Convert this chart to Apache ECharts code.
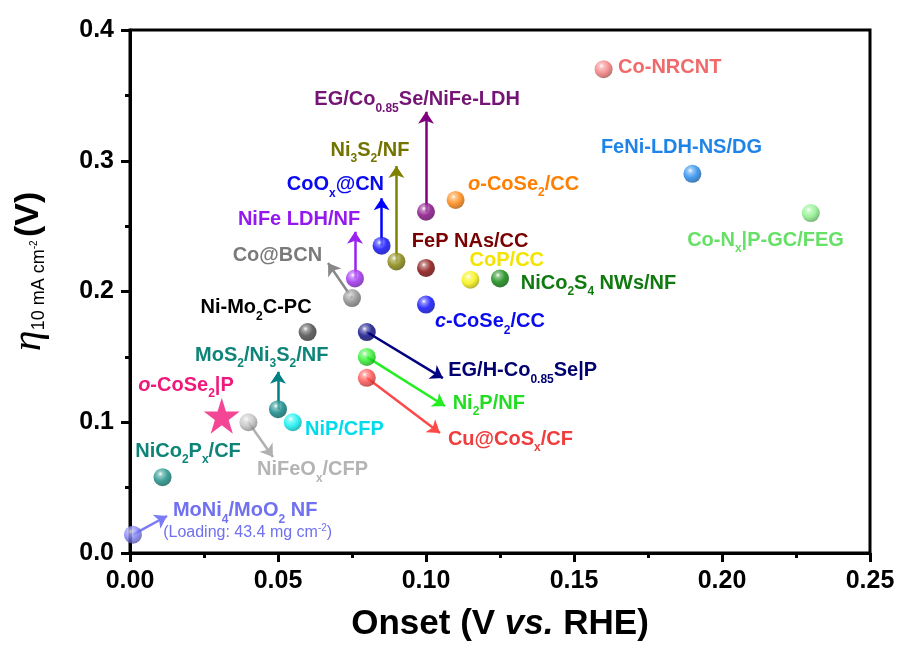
<!DOCTYPE html>
<html><head><meta charset="utf-8">
<script src="https://cdn.jsdelivr.net/npm/echarts@6/dist/echarts.min.js"></script>
<style>html,body{margin:0;padding:0;background:#fff}#c{width:900px;height:646px}</style>
</head><body><div id="c"></div>
<script>
// ---------------- data ----------------
const xTickLabels = ['0.00', '0.05', '0.10', '0.15', '0.20', '0.25'];
const yTickLabels = ['0.0', '0.1', '0.2', '0.3', '0.4'];

const catalysts = [
  'Co-NRCNT', 'FeNi-LDH-NS/DG', 'Co-NxP-GC/FEG', 'EG/Co0.85Se/NiFe-LDH', 'o-CoSe2/CC',
  'Ni3S2/NF', 'CoOx@CN', 'NiFe LDH/NF', 'Co@BCN', 'FeP NAs/CC', 'CoP/CC', 'NiCo2S4 NWs/NF',
  'c-CoSe2/CC', 'Ni-Mo2C-PC', 'EG/H-Co0.85Se|P', 'Ni2P/NF', 'Cu@CoSx/CF', 'MoS2/Ni3S2/NF',
  'NiP/CFP', 'NiFeOx/CFP', 'o-CoSe2|P', 'NiCo2Px/CF', 'MoNi4/MoO2 NF'
];
const onset = [0.160, 0.190, 0.230, 0.100, 0.110, 0.090, 0.085, 0.076, 0.075, 0.100, 0.115, 0.125,
  0.100, 0.060, 0.080, 0.080, 0.080, 0.050, 0.055, 0.040, 0.031, 0.011, 0.001];
const eta10 = [0.370, 0.290, 0.260, 0.261, 0.270, 0.223, 0.235, 0.210, 0.195, 0.218, 0.209, 0.210,
  0.190, 0.169, 0.169, 0.150, 0.134, 0.110, 0.100, 0.100, 0.105, 0.058, 0.014];

// label texts (rich markup for sub/superscripts, italics)
const labelTexts = [
  'Co-NRCNT', 'FeNi-LDH-NS/DG', 'Co-N{sub|x}|P-GC/FEG', 'EG/Co{sub|0.85}Se/NiFe-LDH', '{it|o}-CoSe{sub|2}/CC',
  'Ni{sub|3}S{sub|2}/NF', 'CoO{sub|x}@CN', 'NiFe LDH/NF', 'Co@BCN', 'FeP NAs/CC', 'CoP/CC', 'NiCo{sub|2}S{sub|4} NWs/NF',
  '{it|c}-CoSe{sub|2}/CC', 'Ni-Mo{sub|2}C-PC', 'EG/H-Co{sub|0.85}Se|P', 'Ni{sub|2}P/NF', 'Cu@CoS{sub|x}/CF',
  'MoS{sub|2}/Ni{sub|3}S{sub|2}/NF', 'NiP/CFP', 'NiFeO{sub|x}/CFP', '{it|o}-CoSe{sub|2}|P', 'NiCo{sub|2}P{sub|x}/CF',
  'MoNi{sub|4}/MoO{sub|2} NF'
];
const noteText = '(Loading: 43.4 mg cm{sup|-2})';

// arrow tips (data space); null = no arrow
const arrowTipX = [null, null, null, 0.100, null, 0.090, 0.085, 0.076, 0.0669, null, null, null,
  null, null, 0.1057, 0.1064, 0.1047, 0.050, null, 0.0483, null, null, 0.0125];
const arrowTipY = [null, null, null, 0.3375, null, 0.296, 0.2713, 0.2457, 0.2218, null, null, null,
  null, null, 0.1338, 0.1124, 0.0918, 0.1387, null, 0.0734, null, null, 0.0283];

// ---------------- annotation layout (label anchors, in data space) ----------------
const labelAnchorX = [0.1649, 0.1863, 0.2147, 0.0970, 0.1142, 0.0811, 0.0694, 0.0571, 0.0498, 0.0952, 0.1273, 0.1320,
  0.1030, 0.0426, 0.1075, 0.1090, 0.1074, 0.0445, 0.0591, 0.0429, 0.0189, 0.0196, 0.0145];
const labelAnchorY = [0.3710, 0.3098, 0.2394, 0.3465, 0.2822, 0.3082, 0.2815, 0.2554, 0.2279, 0.2386, 0.2237, 0.2065,
  0.1769, 0.1874, 0.1394, 0.1147, 0.0872, 0.1514, 0.0941, 0.0635, 0.1285, 0.0775, 0.0323];
const labelAlign = ['left', 'center', 'center', 'center', 'left', 'center', 'center', 'center', 'center', 'left', 'center', 'left',
  'left', 'center', 'left', 'left', 'left', 'center', 'left', 'left', 'center', 'center', 'left'];
const noteAnchor = [0.0112, 0.0153];

// ---------------- styles ----------------
const pointColors = ['#f47878', '#1a84ec', '#84f084', '#800080', '#ff8000', '#808000', '#0000ff', '#9a22f0', '#888888',
  '#800000', '#f5f000', '#008000', '#0000ff', '#404040', '#000080', '#22ee22', '#ff4848', '#008080', '#00f0f0',
  '#c0c0c0', '#f0187a', '#108a80', '#7b7bf5'];
const textColors = ['#f06a6a', '#1f84e8', '#66e066', '#741474', '#ff7f00', '#737300', '#0a0af0', '#9418f0', '#7a7a7a',
  '#780000', '#f2e400', '#107a10', '#0a0af0', '#000000', '#00006e', '#22dd22', '#f03c3c', '#0e8478', '#00dcec',
  '#b4b4b4', '#f0187a', '#0e8478', '#7070f0'];

function shade(hex, f) {
  const n = parseInt(hex.slice(1), 16);
  let r = (n >> 16) & 255, g = (n >> 8) & 255, b = n & 255;
  if (f >= 0) { r += (255 - r) * f; g += (255 - g) * f; b += (255 - b) * f; }
  else { r *= 1 + f; g *= 1 + f; b *= 1 + f; }
  return 'rgb(' + Math.round(r) + ',' + Math.round(g) + ',' + Math.round(b) + ')';
}
function sphere(c) {
  return {
    type: 'radial', x: 0.38, y: 0.32, r: 0.72,
    colorStops: [
      { offset: 0, color: '#ffffff' },
      { offset: 0.18, color: shade(c, 0.45) },
      { offset: 0.55, color: c },
      { offset: 1, color: shade(c, -0.35) }
    ]
  };
}
const STAR = 'path://M50,0 L61.2,34.5 L97.6,34.5 L68.2,55.9 L79.4,90.5 L50,69.1 L20.6,90.5 L31.8,55.9 L2.4,34.5 L38.8,34.5 Z';
const starIndex = catalysts.indexOf('o-CoSe2|P');

// ---------------- series ----------------
const pointData = catalysts.map((n, i) => {
  const isStar = i === starIndex;
  return {
    name: n,
    value: [onset[i], eta10[i]],
    symbol: isStar ? STAR : 'circle',
    symbolSize: isStar ? 36 : 18,
    itemStyle: { color: isStar ? pointColors[i] : sphere(pointColors[i]) }
  };
});

const arrowData = [];
catalysts.forEach((n, i) => {
  if (arrowTipX[i] !== null) {
    arrowData.push({
      coords: [[onset[i], eta10[i]], [arrowTipX[i], arrowTipY[i]]],
      lineStyle: { color: pointColors[i] === '#c0c0c0' ? '#b0b0b0' : pointColors[i] }
    });
  }
});

function richFor(col) {
  return {
    sub: { fontSize: 12, lineHeight: 12, fontWeight: 'bold', padding: [17, 0, 0, 0], color: col, textBorderWidth: 0 },
    it: { fontStyle: 'italic', fontWeight: 'bold', fontSize: 20, color: col, textBorderWidth: 0 },
    sup: { fontSize: 10, lineHeight: 10, padding: [0, 0, 10, 0], color: col, textBorderWidth: 0 }
  };
}

const labelData = catalysts.map((n, i) => ({
  value: [labelAnchorX[i], labelAnchorY[i]],
  label: {
    formatter: labelTexts[i],
    color: textColors[i],
    align: labelAlign[i],
    rich: richFor(textColors[i])
  }
}));
labelData.push({
  value: noteAnchor,
  label: {
    formatter: noteText, color: textColors[22], align: 'left', fontSize: 16, fontWeight: 'normal',
    rich: richFor(textColors[22])
  }
});

const chart = echarts.init(document.getElementById('c'), null, { renderer: 'canvas' });
chart.setOption({
  animation: false,
  backgroundColor: '#ffffff',
  textStyle: { fontFamily: 'Liberation Sans, Arial, sans-serif' },
  grid: {
    left: 130, right: 30, top: 30, bottom: 93, show: true, borderColor: '#000', borderWidth: 3,
    containLabel: false, outerBoundsMode: 'none'
  },
  xAxis: {
    type: 'value', min: 0, max: 0.25, interval: 0.05,
    axisLine: { lineStyle: { color: '#000', width: 3 } },
    axisTick: { show: true, length: 9, lineStyle: { color: '#000', width: 3 } },
    minorTick: { show: true, splitNumber: 2, length: 5, lineStyle: { color: '#000', width: 3 } },
    splitLine: { show: false },
    axisLabel: {
      color: '#000', fontSize: 25, fontWeight: 'bold', margin: 16,
      formatter: v => xTickLabels[Math.round(v / 0.05)]
    },
    name: '{b|Onset (V }{i|vs.}{b| RHE)}',
    nameLocation: 'middle', nameGap: 54,
    nameTextStyle: {
      rich: {
        b: { fontSize: 35, fontWeight: 'bold', color: '#000' },
        i: { fontSize: 35, fontWeight: 'bold', fontStyle: 'italic', color: '#000' }
      }
    }
  },
  yAxis: {
    type: 'value', min: 0, max: 0.4, interval: 0.1,
    axisLine: { lineStyle: { color: '#000', width: 3 } },
    axisTick: { show: true, length: 9, lineStyle: { color: '#000', width: 3 } },
    minorTick: { show: true, splitNumber: 2, length: 5, lineStyle: { color: '#000', width: 3 } },
    splitLine: { show: false },
    axisLabel: {
      color: '#000', fontSize: 25, fontWeight: 'bold', margin: 16,
      formatter: v => yTickLabels[Math.round(v / 0.1)]
    },
    name: '{eta|η}{s|10 mA cm}{ss|-2} {v|(V)}',
    nameLocation: 'middle', nameGap: 80, nameRotate: 90,
    nameTextStyle: {
      padding: [0, 0, 0, 40],
      rich: {
        eta: { fontSize: 42, fontStyle: 'italic', fontFamily: 'Liberation Serif, DejaVu Serif, serif', color: '#000' },
        s: { fontSize: 18, lineHeight: 18, color: '#000', padding: [20, 0, 0, 0] },
        ss: { fontSize: 10, lineHeight: 10, color: '#000', padding: [10, 0, 0, 0] },
        v: { fontSize: 34, fontWeight: 'bold', color: '#000' }
      }
    }
  },
  series: [
    {
      type: 'lines', coordinateSystem: 'cartesian2d', z: 2, silent: true,
      symbol: ['none', 'arrow'], symbolSize: [9, 12],
      lineStyle: { width: 2.5, opacity: 1 },
      data: arrowData
    },
    {
      type: 'scatter', z: 3, silent: true,
      data: pointData
    },
    {
      type: 'scatter', z: 4, silent: true,
      symbol: 'circle', symbolSize: 0.1,
      itemStyle: { color: 'rgba(0,0,0,0)' },
      label: {
        show: true, position: 'inside', verticalAlign: 'middle',
        fontSize: 20, fontWeight: 'bold', textBorderWidth: 0, opacity: 1
      },
      data: labelData
    }
  ]
});
</script>
</body></html>
